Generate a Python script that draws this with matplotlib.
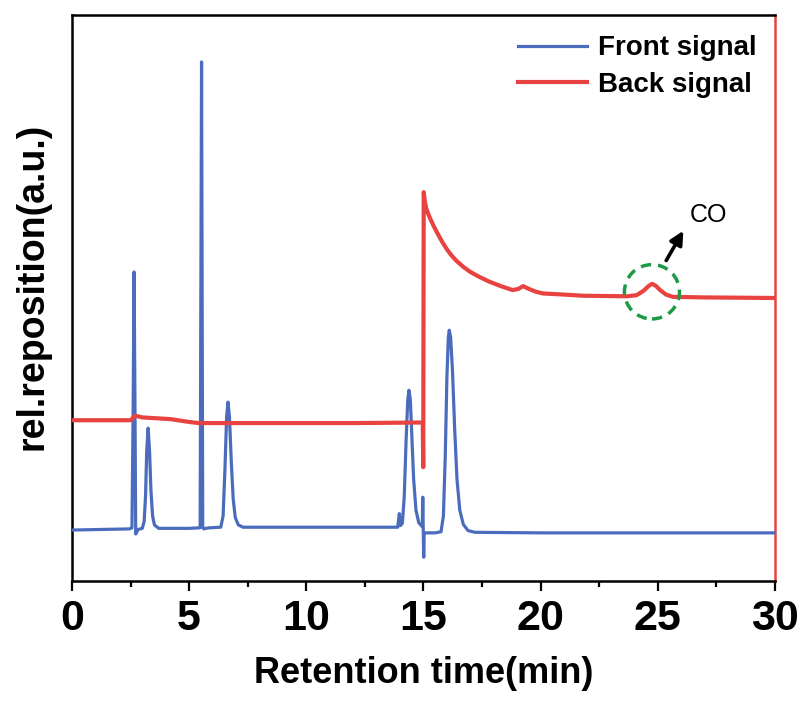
import matplotlib
matplotlib.use("Agg")
import matplotlib.pyplot as plt
from matplotlib.patches import Ellipse
from matplotlib.ticker import MultipleLocator

plt.rcParams['font.family'] = ['Liberation Sans', 'DejaVu Sans']
plt.rcParams['font.weight'] = 'bold'

# front signal: retention time (min) and relative response
front_t = [0.0, 2.45, 2.56, 2.61, 2.65, 2.69, 2.72, 2.76, 2.82, 3.0, 3.08, 3.14, 3.19, 3.25,
           3.31, 3.37, 3.44, 3.52, 3.7, 5.0, 5.47, 5.53, 5.58, 5.63, 5.69, 5.9, 6.35, 6.45,
           6.53, 6.6, 6.66, 6.72, 6.8, 6.88, 6.97, 7.1, 7.3, 9.0, 12.0, 13.9, 13.97,
           14.02, 14.1, 14.18, 14.26, 14.33, 14.38, 14.44, 14.5, 14.58, 14.68, 14.8,
           14.95, 14.97, 14.99, 15.01, 15.03, 15.1, 15.5, 15.75, 15.85, 15.93, 16.0,
           16.06, 16.1, 16.16, 16.24, 16.33, 16.43, 16.55, 16.7, 16.9, 17.2, 20.0, 25.0,
           30.0]
front_y = [9.0, 9.2, 9.4, 30.0, 54.6, 30.0, 8.3, 8.6, 9.1, 9.3, 10.5, 15.0, 23.0, 27.0,
           23.0, 16.0, 11.5, 9.9, 9.3, 9.3, 9.4, 91.7, 9.5, 9.2, 9.3, 9.4, 9.5, 11.5,
           20.0, 29.0, 31.6, 29.0, 21.0, 14.5, 11.2, 9.9, 9.5, 9.5, 9.5, 9.5, 11.9, 9.8,
           10.2, 15.0, 25.0, 32.0, 33.7, 32.0, 26.0, 18.0, 12.5, 10.3, 9.6, 14.8, 9.0,
           4.2, 8.5, 8.5, 8.5, 8.7, 11.5, 22.0, 36.0, 43.0, 44.3, 43.0, 37.0, 27.0, 18.0,
           12.5, 10.0, 8.9, 8.6, 8.5, 8.5, 8.5]

# back signal
back_t = [0.0, 2.5, 2.7, 3.0, 4.2, 5.0, 5.4, 6.0, 9.0, 12.0, 14.97, 14.99, 15.01, 15.06,
          15.12, 15.2, 15.3, 15.45, 15.6, 15.8, 16.0, 16.2, 16.4, 16.7, 17.0, 17.4, 17.8,
          18.3, 18.8, 19.05, 19.25, 19.5, 19.8, 20.1, 21.0, 21.8, 23.7, 24.1, 24.4, 24.6,
          24.75, 24.9, 25.1, 25.35, 25.65, 27.0, 30.0]
back_y = [28.4, 28.4, 29.2, 28.9, 28.6, 28.1, 27.9, 27.9, 27.9, 27.9, 28.0, 20.1, 68.7,
          67.0, 65.8, 64.9, 63.9, 62.6, 61.4, 59.9, 58.6, 57.5, 56.6, 55.5, 54.6, 53.7,
          52.9, 52.1, 51.4, 51.6, 52.1, 51.6, 51.1, 50.8, 50.6, 50.4, 50.3, 50.5, 51.3,
          52.1, 52.5, 52.2, 51.4, 50.6, 50.2, 50.1, 50.0]

blue = '#4B6CBD'
red = '#E84340'

fig = plt.figure(figsize=(8.05, 7.14), dpi=100)
ax = fig.add_axes([0.0894, 0.1863, 0.8733, 0.7927])

ax.plot(front_t, front_y, color=blue, lw=2.3, label='Front signal', zorder=3)
ax.plot(back_t, back_y, color=red, lw=3.0, label='Back signal', zorder=3)

# CO marker
ax.add_patch(Ellipse((24.75, 51.1), 2.35, 9.6, fill=False, edgecolor='#1E9A46',
                     lw=2.5, ls=(0, (3, 2)), zorder=4))
ax.annotate('', xy=(26.15, 62.3), xytext=(25.3, 56.2),
            arrowprops=dict(arrowstyle='-|>', color='black', lw=2.6, mutation_scale=20))
ax.text(27.15, 64.6, 'CO', fontsize=18, fontweight='normal', ha='center', va='center')

ax.set_xlim(0, 30)
ax.set_ylim(0, 100)
ax.xaxis.set_major_locator(MultipleLocator(5))
ax.xaxis.set_minor_locator(MultipleLocator(2.5))
ax.tick_params(axis='x', which='major', direction='out', length=7, width=1.6,
               labelsize=31, pad=6)
ax.tick_params(axis='x', which='minor', direction='out', length=4, width=1.6)
ax.set_yticks([])

for side in ['left', 'bottom', 'top']:
    ax.spines[side].set_linewidth(1.8)
ax.spines['right'].set_linewidth(1.8)
ax.spines['right'].set_color(red)

ax.set_xlabel('Retention time(min)', fontsize=26, fontweight='bold', labelpad=12)
ax.set_ylabel('rel.reposition(a.u.)', fontsize=27, fontweight='bold')
ax.yaxis.set_label_coords(-0.03, 0.52)

ax.legend(loc='upper right', bbox_to_anchor=(1.01, 1.008), frameon=False,
          prop={'size': 20, 'weight': 'bold'},
          handlelength=2.5, handletextpad=0.4, labelspacing=0.38)

fig.savefig('out.png', dpi=100)
